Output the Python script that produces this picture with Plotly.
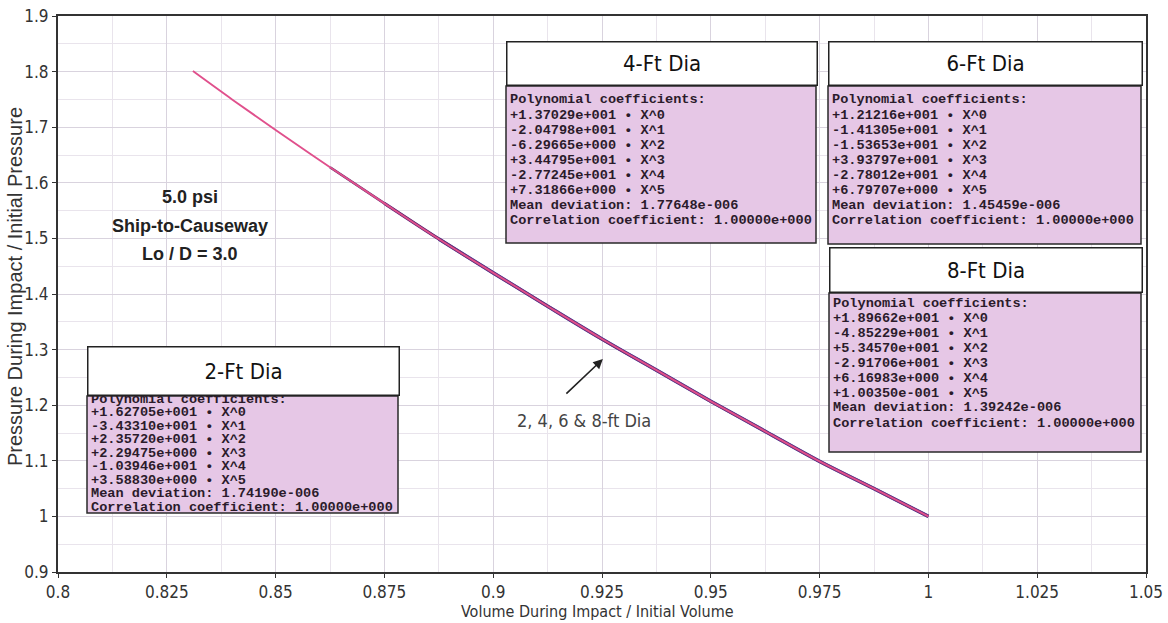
import plotly.graph_objects as go

# curves (all four diameters lie on top of each other)
volume_2ft = [0.831, 0.84, 0.85, 0.8625, 0.875, 0.8875, 0.9, 0.9125, 0.925, 0.9375, 0.95, 0.9625, 0.975, 0.9875, 1.0]
pressure_2ft = [1.801, 1.750, 1.695, 1.628, 1.563, 1.499, 1.438, 1.378, 1.319, 1.263, 1.207, 1.153, 1.099, 1.050, 1.000]

volume_4ft = [0.8625, 0.875, 0.8875, 0.9, 0.9125, 0.925, 0.9375, 0.95, 0.9625, 0.975, 0.9875, 1.0]
pressure_4ft = [1.628, 1.563, 1.499, 1.438, 1.378, 1.319, 1.263, 1.207, 1.153, 1.099, 1.050, 1.000]

volume_6ft = [0.875, 0.8875, 0.9, 0.9125, 0.925, 0.9375, 0.95, 0.9625, 0.975, 0.9875, 1.0]
pressure_6ft = [1.563, 1.499, 1.438, 1.378, 1.319, 1.263, 1.207, 1.153, 1.099, 1.050, 1.000]

volume_8ft = [0.8875, 0.9, 0.9125, 0.925, 0.9375, 0.95, 0.9625, 0.975, 0.9875, 1.0]
pressure_8ft = [1.499, 1.438, 1.378, 1.319, 1.263, 1.207, 1.153, 1.099, 1.050, 1.000]

# fit reports shown in the boxes
coef_2ft = ["+1.62705e+001", "-3.43310e+001", "+2.35720e+001", "+2.29475e+000", "-1.03946e+001", "+3.58830e+000"]
coef_4ft = ["+1.37029e+001", "-2.04798e+001", "-6.29665e+000", "+3.44795e+001", "-2.77245e+001", "+7.31866e+000"]
coef_6ft = ["+1.21216e+001", "-1.41305e+001", "-1.53653e+001", "+3.93797e+001", "-2.78012e+001", "+6.79707e+000"]
coef_8ft = ["+1.89662e+001", "-4.85229e+001", "+5.34570e+001", "-2.91706e+001", "+6.16983e+000", "+1.00350e-001"]
mean_dev = {"2-Ft Dia": "1.74190e-006", "4-Ft Dia": "1.77648e-006",
            "6-Ft Dia": "1.45459e-006", "8-Ft Dia": "1.39242e-006"}
corr = "1.00000e+000"

NARROW = "Liberation Sans Narrow, Arial Narrow, DejaVu Sans Condensed, Liberation Sans, sans-serif"
MONO = "Liberation Mono, Courier New, monospace"

# plot area in screen pixels (body margin is removed below)
L, R, T, B = 58, 1146, 16, 572


def px(x):
    return (x - L) / (R - L)


def py(y):
    return 1 - (y - T) / (B - T)


fig = go.Figure()
for vol, pres, color, width in [
    (volume_8ft, pressure_8ft, "#3b3f9c", 3.6),
    (volume_6ft, pressure_6ft, "#7a3a8c", 3.2),
    (volume_4ft, pressure_4ft, "#5a2a6a", 2.6),
    (volume_2ft, pressure_2ft, "#e0508c", 1.9),
]:
    fig.add_trace(go.Scatter(x=vol, y=pres, mode="lines", line=dict(color=color, width=width, shape="spline"),
                             showlegend=False, hoverinfo="skip"))

shapes = []
annotations = []

# (title, title box x0,x1,y0,y1, content bottom, first row y, row step, coefs)
boxes = [
    ("2-Ft Dia", 87, 400, 346, 396, 513, 399, 13.5, coef_2ft),
    ("4-Ft Dia", 506, 818, 41, 86, 243, 100, 15.1, coef_4ft),
    ("6-Ft Dia", 828, 1143, 41, 86, 244, 100, 15.1, coef_6ft),
    ("8-Ft Dia", 829, 1143, 247, 293, 452, 303, 15.0, coef_8ft),
]
for name, x0, x1, y0, y1, yb, row0, step, coefs in boxes:
    shapes.append(dict(type="rect", xref="paper", yref="paper", x0=px(x0), x1=px(x1 - 2), y0=py(y1), y1=py(yb),
                       fillcolor="#e6c7e6", line=dict(color="#2a2a2a", width=1.5), layer="above"))
    rows = ["Polynomial coefficients:"]
    rows += [c + " \u2022 X^" + str(i) for i, c in enumerate(coefs)]
    rows += ["Mean deviation: " + mean_dev[name], "Correlation coefficient: " + corr]
    for i, row in enumerate(rows):
        annotations.append(dict(xref="paper", yref="paper", x=px(x0 + 2), y=py(row0 + i * step),
                                xanchor="left", yanchor="middle", showarrow=False, text="<b>" + row + "</b>",
                                font=dict(family=MONO, size=13.6, color="#2b1b2b")))
    annotations.append(dict(xref="paper", yref="paper", x=px((x0 + x1) / 2), y=py((y0 + y1) / 2),
                            xanchor="center", yanchor="middle", showarrow=False, text=name,
                            font=dict(family=NARROW, size=22, color="#111"),
                            bgcolor="white", bordercolor="#222", borderwidth=1.5, borderpad=0,
                            width=x1 - x0 - 3, height=y1 - y0 - 3))

for txt, y in [("5.0 psi", 197), ("Ship-to-Causeway", 226), ("Lo / D = 3.0", 254)]:
    annotations.append(dict(xref="paper", yref="paper", x=px(190), y=py(y), xanchor="center", yanchor="middle",
                            showarrow=False, text="<b>" + txt + "</b>",
                            font=dict(family="Liberation Sans, Arial, sans-serif", size=18, color="#222")))

annotations.append(dict(x=0.9252, y=1.283, xref="x", yref="y", ax=-38, ay=36, showarrow=True,
                        arrowhead=2, arrowsize=1.2, arrowwidth=1.6, arrowcolor="#222", text=""))
annotations.append(dict(xref="paper", yref="paper", x=px(584), y=py(420), xanchor="center", yanchor="middle",
                        showarrow=False, text="2, 4, 6 &amp; 8-ft Dia",
                        font=dict(family=NARROW, size=18, color="#444")))
annotations.append(dict(xref="paper", yref="paper", x=px(597), y=py(611), xanchor="center", yanchor="middle",
                        showarrow=False, text="Volume During Impact / Initial Volume",
                        font=dict(family=NARROW, size=16, color="#333")))
annotations.append(dict(xref="paper", yref="paper", x=px(15), y=py(287), xanchor="center", yanchor="middle",
                        showarrow=False, textangle=-90, text="Pressure During Impact / Initial Pressure",
                        font=dict(family="Liberation Sans, Arial, sans-serif", size=20, color="#333")))

axis_common = dict(showline=True, linecolor="#333", linewidth=2, mirror=True, ticks="outside", ticklen=4,
                   tickcolor="#333", gridcolor="#d9d3de", gridwidth=1, zeroline=False, automargin=False,
                   ticklabeloverflow="allow", tickfont=dict(family=NARROW, size=17, color="#333"))

fig.update_layout(
    width=1168, height=623,
    margin=dict(l=L, r=1168 - R, t=T, b=623 - B, autoexpand=False),
    plot_bgcolor="white", paper_bgcolor="white",
    xaxis=dict(range=[0.8, 1.05], tick0=0.8, dtick=0.025,
               minor=dict(dtick=0.0125, showgrid=True, gridcolor="#e9e4ec", ticks=""),
               **axis_common),
    yaxis=dict(range=[0.9, 1.9], tick0=0.9, dtick=0.1,
               minor=dict(dtick=0.05, showgrid=True, gridcolor="#e9e4ec", ticks=""),
               **axis_common),
    shapes=shapes,
    annotations=annotations,
    showlegend=False,
)

fig.write_html("out.html", config={"displayModeBar": False},
               post_script="document.body.style.margin = '0'; document.body.style.overflow = 'hidden';")
